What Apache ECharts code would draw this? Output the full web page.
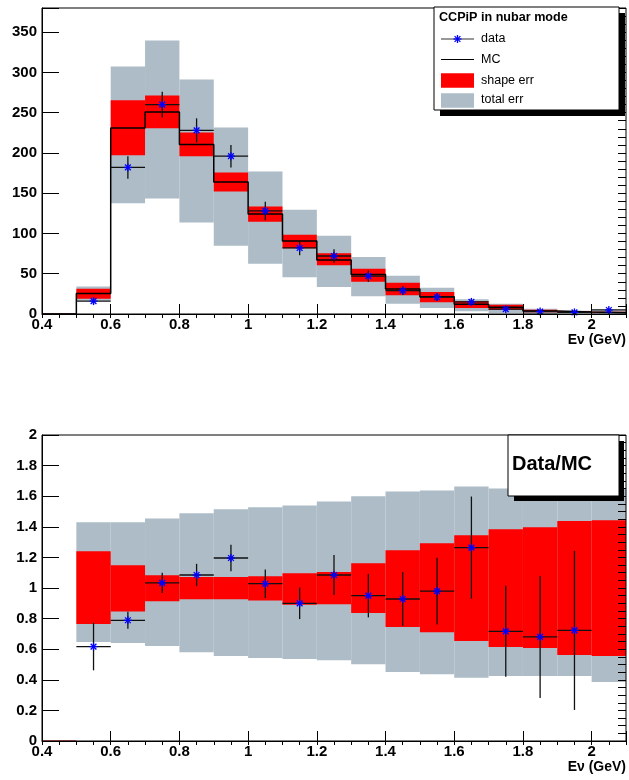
<!DOCTYPE html>
<html>
<head>
<meta charset="utf-8">
<script src="https://cdn.jsdelivr.net/npm/echarts@6/dist/echarts.min.js"></script>
<style>
  html, body { margin: 0; padding: 0; background: #fff; }
  #chart { width: 629px; height: 780px; }
</style>
</head>
<body>
<div id="chart"></div>
<script>
// Energy bins (GeV): 17 bins of 0.1 from 0.4 to 2.1
const binEdges = [0.4, 0.5, 0.6, 0.7, 0.8, 0.9, 1.0, 1.1, 1.2, 1.3, 1.4, 1.5, 1.6, 1.7, 1.8, 1.9, 2.0, 2.1];

// Event counts (upper panel)
const dataCounts = [null, 16, 182, 260, 228, 196, 128, 82, 72, 47, 29, 21, 15, 6, 3, 2, 5];
const dataErr    = [0, 4, 14, 16, 15, 14, 11.5, 9, 8.5, 7, 5.4, 4.6, 3.9, 2.4, 1.7, 1.4, 2.2];
const mcCounts   = [0, 25.6, 231, 251, 210.4, 164, 124.3, 90.7, 67, 49, 31, 21.5, 12, 8.4, 3.8, 2.5, 1.5];
const shapeLo    = [0, 19.0, 197.2, 230.7, 195.9, 152.0, 114.7, 81.6, 60.5, 40.2, 23.2, 14.5, 7.5, 5.2, 2.3, 1.4, 0.8];
const shapeHi    = [0, 31.5, 265.5, 271.3, 225.3, 175.6, 133.4, 98.5, 75.4, 56.3, 38.9, 27.3, 15.7, 11.6, 5.3, 3.6, 2.2];
const totalLo    = [0, 16.6, 137.5, 143.3, 113.5, 84.9, 62.5, 45.6, 33.6, 22.0, 12.8, 7.5, 3.3, 1.2, 0, 1.0, 0.4];
const totalHi    = [0, 34.0, 307.3, 339.6, 291.2, 231.5, 176.9, 129.6, 97.3, 70.8, 47.6, 32.7, 18.2, 12.8, 6.6, 4.1, 4.6];

// Data/MC ratio (lower panel)
const ratio      = [null, 0.617, 0.789, 1.033, 1.085, 1.196, 1.028, 0.900, 1.085, 0.950, 0.928, 0.980, 1.264, 0.717, 0.680, 0.723, null];
const ratioErr   = [0, 0.155, 0.056, 0.066, 0.073, 0.086, 0.093, 0.103, 0.131, 0.142, 0.176, 0.218, 0.334, 0.297, 0.399, 0.520, 0];
const shapeRatioLo = [0, 0.765, 0.847, 0.913, 0.926, 0.926, 0.919, 0.891, 0.893, 0.837, 0.745, 0.710, 0.654, 0.614, 0.608, 0.562, 0.556];
const shapeRatioHi = [0, 1.240, 1.148, 1.083, 1.072, 1.072, 1.076, 1.096, 1.105, 1.161, 1.246, 1.292, 1.344, 1.384, 1.397, 1.438, 1.442];
const totalRatioLo = [0, 0.647, 0.641, 0.621, 0.580, 0.556, 0.542, 0.536, 0.527, 0.501, 0.451, 0.436, 0.413, 0.425, 0.425, 0.425, 0.386];
const totalRatioHi = [0, 1.429, 1.429, 1.455, 1.488, 1.514, 1.527, 1.540, 1.566, 1.599, 1.630, 1.638, 1.664, 1.651, 1.651, 1.651, 1.651];

const FONT = "'Liberation Sans', Arial, Helvetica, sans-serif";
const GRAY = '#adbcc6';
const RED = '#ff0000';
const BLUE = '#0000ff';

// [lo edge, hi edge, low value, high value] per bin
function bandData(lo, hi) {
  const out = [];
  for (let i = 0; i < binEdges.length - 1; i++) {
    out.push([binEdges[i], binEdges[i + 1], lo[i], hi[i]]);
  }
  return out;
}

// [center, value, error, lo edge, hi edge] per filled bin
function pointData(vals, errs) {
  const out = [];
  for (let i = 0; i < binEdges.length - 1; i++) {
    if (vals[i] == null) continue;
    const lo = binEdges[i], hi = binEdges[i + 1];
    out.push([(lo + hi) / 2, vals[i], errs[i], lo, hi]);
  }
  return out;
}

// Step outline of a histogram
function stepData(vals) {
  const out = [];
  for (let i = 0; i < binEdges.length - 1; i++) {
    out.push([binEdges[i], vals[i]]);
    out.push([binEdges[i + 1], vals[i]]);
  }
  return out;
}

function bandItem(color) {
  return function (params, api) {
    const p0 = api.coord([api.value(0), api.value(3)]);
    const p1 = api.coord([api.value(1), api.value(2)]);
    let h = p1[1] - p0[1];
    let y = p0[1];
    if (h < 1.2) { y = y - 0.6; h = 1.2; }
    return {
      type: 'rect',
      shape: { x: p0[0], y: y, width: p1[0] - p0[0], height: h },
      style: { fill: color }
    };
  };
}

function starShapes(cx, cy, s) {
  const d = s * 0.72;
  const st = { stroke: BLUE, lineWidth: 1.3 };
  return [
    { type: 'line', shape: { x1: cx - s, y1: cy, x2: cx + s, y2: cy }, style: st },
    { type: 'line', shape: { x1: cx, y1: cy - s, x2: cx, y2: cy + s }, style: st },
    { type: 'line', shape: { x1: cx - d, y1: cy - d, x2: cx + d, y2: cy + d }, style: st },
    { type: 'line', shape: { x1: cx - d, y1: cy + d, x2: cx + d, y2: cy - d }, style: st }
  ];
}

function pointItem(params, api) {
  const x = api.value(0), v = api.value(1), e = api.value(2);
  const c = api.coord([x, v]);
  const l = api.coord([api.value(3), v]);
  const r = api.coord([api.value(4), v]);
  const t = api.coord([x, v + e]);
  const b = api.coord([x, v - e]);
  const bar = { stroke: '#111', lineWidth: 1.3 };
  return {
    type: 'group',
    children: [
      { type: 'line', shape: { x1: l[0], y1: c[1], x2: r[0], y2: c[1] }, style: bar },
      { type: 'line', shape: { x1: c[0], y1: t[1], x2: c[0], y2: b[1] }, style: bar }
    ].concat(starShapes(c[0], c[1], 4))
  };
}

const tickLabel = {
  fontFamily: FONT, fontSize: 15, fontWeight: 'bold', color: '#000'
};

function xMain(gridIndex) {
  return {
    type: 'value', gridIndex: gridIndex, min: 0.4, max: 2.1, interval: 0.2, z: 5,
    axisLine: { show: true, onZero: false, lineStyle: { color: '#000', width: 1 } },
    axisTick: { show: true, inside: true, length: 10, lineStyle: { color: '#000', width: 1 } },
    splitLine: { show: false },
    axisLabel: Object.assign({
      margin: 3,
      formatter: function (v) {
        if (Math.abs(v * 5 - Math.round(v * 5)) > 1e-6) return '';
        return String(Math.round(v * 10) / 10);
      }
    }, tickLabel)
  };
}
function xMinor(gridIndex) {
  return {
    type: 'value', gridIndex: gridIndex, min: 0.4, max: 2.1, interval: 0.05, z: 5,
    axisLine: { show: false },
    axisTick: { show: true, inside: true, length: 4, lineStyle: { color: '#000', width: 1 } },
    splitLine: { show: false },
    axisLabel: { show: false }
  };
}
function yMain(gridIndex, max, interval) {
  return {
    type: 'value', gridIndex: gridIndex, min: 0, max: max, interval: interval, z: 5,
    axisLine: { show: true, onZero: false, lineStyle: { color: '#000', width: 1 } },
    axisTick: { show: true, inside: true, length: 17, lineStyle: { color: '#000', width: 1 } },
    splitLine: { show: false },
    axisLabel: Object.assign({
      margin: 5,
      formatter: function (v) {
        if (Math.abs(v / interval - Math.round(v / interval)) > 1e-6) return '';
        return String(Math.round(v * 100) / 100);
      }
    }, tickLabel)
  };
}
function yMinor(gridIndex, max, interval) {
  return {
    type: 'value', gridIndex: gridIndex, min: 0, max: max, interval: interval, z: 5,
    axisLine: { show: false },
    axisTick: { show: true, inside: true, length: 8, lineStyle: { color: '#000', width: 1 } },
    splitLine: { show: false },
    axisLabel: { show: false }
  };
}

const chart = echarts.init(document.getElementById('chart'), null, { renderer: 'canvas' });

const legendX = 434, legendY = 7, legendW = 185, legendH = 103;
const symX0 = 441, symX1 = 474, textX = 481;

const option = {
  backgroundColor: '#fff',
  animation: false,
  textStyle: { fontFamily: FONT },
  grid: [
    { left: 42, top: 8, width: 584, height: 306, show: true, z: 5,
      borderColor: '#000', borderWidth: 1, backgroundColor: 'transparent' },
    { left: 42, top: 435, width: 584, height: 306, show: true, z: 5,
      borderColor: '#000', borderWidth: 1, backgroundColor: 'transparent' }
  ],
  xAxis: [xMain(0), xMinor(0), xMain(1), xMinor(1)],
  yAxis: [yMain(0, 380, 50), yMinor(0, 380, 10), yMain(1, 2, 0.2), yMinor(1, 2, 0.05)],
  series: [
    {
      name: 'total err', type: 'custom', xAxisIndex: 0, yAxisIndex: 0, z: 1,
      renderItem: bandItem(GRAY), encode: { x: [0, 1], y: [2, 3] },
      data: bandData(totalLo, totalHi)
    },
    {
      name: 'shape err', type: 'custom', xAxisIndex: 0, yAxisIndex: 0, z: 2,
      renderItem: bandItem(RED), encode: { x: [0, 1], y: [2, 3] },
      data: bandData(shapeLo, shapeHi)
    },
    {
      name: 'MC', type: 'line', xAxisIndex: 0, yAxisIndex: 0, z: 3,
      symbol: 'none', lineStyle: { color: '#000', width: 1.5 },
      data: stepData(mcCounts)
    },
    {
      name: 'data', type: 'custom', xAxisIndex: 0, yAxisIndex: 0, z: 4,
      renderItem: pointItem, encode: { x: 0, y: 1 },
      data: pointData(dataCounts, dataErr)
    },
    {
      name: 'total err ratio', type: 'custom', xAxisIndex: 2, yAxisIndex: 2, z: 1,
      renderItem: bandItem(GRAY), encode: { x: [0, 1], y: [2, 3] },
      data: bandData(totalRatioLo, totalRatioHi)
    },
    {
      name: 'shape err ratio', type: 'custom', xAxisIndex: 2, yAxisIndex: 2, z: 2,
      renderItem: bandItem(RED), encode: { x: [0, 1], y: [2, 3] },
      data: bandData(shapeRatioLo, shapeRatioHi)
    },
    {
      name: 'data ratio', type: 'custom', xAxisIndex: 2, yAxisIndex: 2, z: 4,
      renderItem: pointItem, encode: { x: 0, y: 1 },
      data: pointData(ratio, ratioErr)
    }
  ],
  graphic: [
    // axis titles
    { type: 'text', right: 3, top: 333, z: 50,
      style: { text: 'Eν (GeV)', font: 'bold 14px ' + FONT, fill: '#000' } },
    { type: 'text', right: 3, top: 760, z: 50,
      style: { text: 'Eν (GeV)', font: 'bold 14px ' + FONT, fill: '#000' } },
    // legend box with drop shadow
    { type: 'rect', z: 60, shape: { x: legendX + 6, y: legendY + 6, width: legendW, height: legendH },
      style: { fill: '#000' } },
    { type: 'rect', z: 61, shape: { x: legendX, y: legendY, width: legendW, height: legendH },
      style: { fill: '#fff', stroke: '#000', lineWidth: 1 } },
    { type: 'text', z: 62, x: 439, y: 17.5,
      style: { text: 'CCPiP in nubar mode', font: 'bold 12.6px ' + FONT, fill: '#000', verticalAlign: 'middle' } },
    { type: 'line', z: 62, shape: { x1: symX0, y1: 39, x2: symX1, y2: 39 }, style: { stroke: '#333', lineWidth: 1.2 } },
    { type: 'group', z: 63, children: starShapes(457.5, 39, 4).map(function (s) { s.z = 63; return s; }) },
    { type: 'text', z: 62, x: textX, y: 39,
      style: { text: 'data', font: '12.5px ' + FONT, fill: '#000', verticalAlign: 'middle' } },
    { type: 'line', z: 62, shape: { x1: symX0, y1: 59.5, x2: symX1, y2: 59.5 }, style: { stroke: '#000', lineWidth: 1.2 } },
    { type: 'text', z: 62, x: textX, y: 59.5,
      style: { text: 'MC', font: '12.5px ' + FONT, fill: '#000', verticalAlign: 'middle' } },
    { type: 'rect', z: 62, shape: { x: symX0, y: 73.3, width: symX1 - symX0, height: 14.4 }, style: { fill: RED } },
    { type: 'text', z: 62, x: textX, y: 80.5,
      style: { text: 'shape err', font: '12.5px ' + FONT, fill: '#000', verticalAlign: 'middle' } },
    { type: 'rect', z: 62, shape: { x: symX0, y: 93.3, width: symX1 - symX0, height: 14.4 }, style: { fill: GRAY } },
    { type: 'text', z: 62, x: textX, y: 99.5,
      style: { text: 'total err', font: '12.5px ' + FONT, fill: '#000', verticalAlign: 'middle' } },
    // ratio panel label
    { type: 'rect', z: 60, shape: { x: 514, y: 441, width: 110, height: 60 }, style: { fill: '#000' } },
    { type: 'rect', z: 61, shape: { x: 508, y: 435, width: 111, height: 61 },
      style: { fill: '#fff', stroke: '#000', lineWidth: 1 } },
    { type: 'text', z: 62, x: 512, y: 464.5,
      style: { text: 'Data/MC', font: 'bold 20px ' + FONT, fill: '#000', verticalAlign: 'middle' } }
  ]
};

chart.setOption(option);
</script>
</body>
</html>
